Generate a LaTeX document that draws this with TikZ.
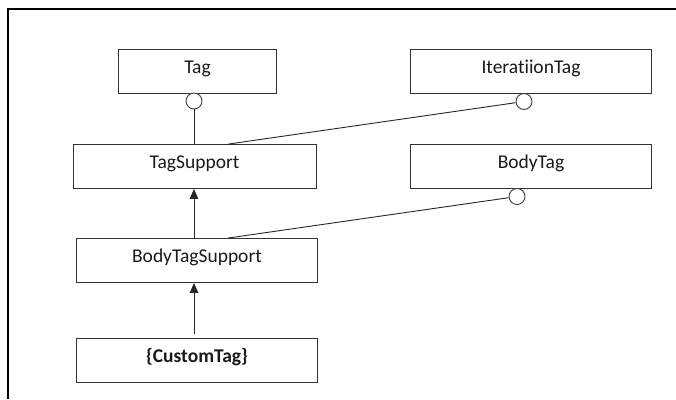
\documentclass[tikz,border=0pt]{standalone}
\usepackage{fontspec}
\setmainfont[Ligatures=CommonOff]{Carlito}
\usepackage{tikz}
\usetikzlibrary{arrows.meta}

\begin{document}
\begin{tikzpicture}[x=1pt,y=-1pt]
  \tikzset{classbox/.style = {draw=black!80,line width=0.9pt,minimum height=44pt,inner sep=0pt,text height=12pt,text depth=8pt,font=\fontsize{19.5}{22}\selectfont,text=black!90}}
  \tikzset{lolli/.style = {circle,draw=black!75,fill=white,line width=0.9pt,minimum size=16pt,inner sep=0pt}}
  \tikzset{link/.style = {draw=black!85,line width=0.9pt}}
  \tikzset{inherit/.style = {link,-{Triangle[length=10pt,width=8.5pt]}}}

\useasboundingbox (0,0) rectangle (676,399);
\draw[line width=2pt] (676,8.5) -- (7.5,8.5) -- (7.5,399);

\node[classbox,minimum width=158pt] (tag)  at (197.5,71) {Tag};
\node[classbox,minimum width=241pt] (iter)  at (531,71) {IteratiionTag};
\node[classbox,minimum width=243pt] (tagsup)  at (194.5,166.5) {TagSupport};
\node[classbox,minimum width=241pt] (body)  at (531,166) {BodyTag};
\node[classbox,minimum width=241pt] (bodysup)  at (197,260.5) {BodyTagSupport};
\node[classbox,minimum width=241pt] (custom)  at (197,360) {\textbf{\{CustomTag\}}};

\node[lolli] (tagc)  at (194,101) {};
\node[lolli] (iterc)  at (524,101.5) {};
\node[lolli] (bodyc)  at (517,196.5) {};

\coordinate (tsin) at ([xshift=34pt]tagsup.north);
\coordinate (bsin) at ([xshift=31pt]bodysup.north);

  \path[link] (tagc) -- (tagc |- tagsup.north);
  \path[link] (tsin) -- (iterc);
  \path[link] (bsin) -- (bodyc);

    \path[inherit] (bodysup.north -| tagc) -- (tagsup.south -| tagc);
    \path[inherit,shorten <=4pt] (custom.north -| tagc) -- (bodysup.south -| tagc);

\end{tikzpicture}
\end{document}
